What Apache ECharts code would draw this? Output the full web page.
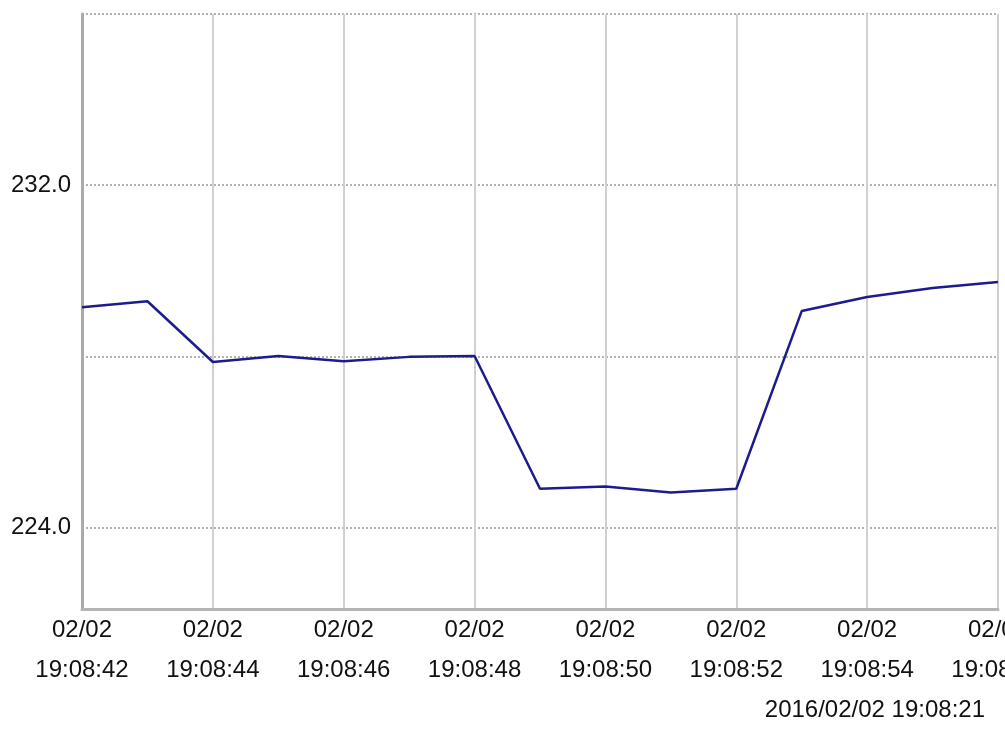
<!DOCTYPE html>
<html>
<head>
<meta charset="utf-8">
<script src="https://cdn.jsdelivr.net/npm/echarts@6/dist/echarts.min.js"></script>
<style>
  html, body { margin: 0; padding: 0; background: #fff; }
  #chart { width: 1005px; height: 740px; }
</style>
</head>
<body>
<div id="chart"></div>
<script>
  // sample times (one per second) and voltage readings
  var dates = ['02/02', '02/02', '02/02', '02/02', '02/02', '02/02', '02/02', '02/02',
               '02/02', '02/02', '02/02', '02/02', '02/02', '02/02', '02/02'];
  var times = ['19:08:42', '19:08:43', '19:08:44', '19:08:45', '19:08:46', '19:08:47', '19:08:48', '19:08:49',
               '19:08:50', '19:08:51', '19:08:52', '19:08:53', '19:08:54', '19:08:55', '19:08:56'];
  var values = [229.15, 229.29, 227.87, 228.01, 227.89, 227.99, 228.01, 224.91,
                224.96, 224.82, 224.91, 229.06, 229.39, 229.60, 229.74];
  var gridValues = [224, 228, 232, 236];
  var labelValues = [224, 232];
  var stamp = '2016/02/02 19:08:21';

  var font = "'Liberation Sans', Arial, sans-serif";

  var myChart = echarts.init(document.getElementById('chart'));
  var option = {
    animation: false,
    backgroundColor: '#fff',
    title: {
      text: stamp,
      right: 20,
      top: 698,
      padding: 0,
      textStyle: { color: '#111', fontSize: 24, fontWeight: 'normal', fontFamily: font }
    },
    grid: {
      left: 82,
      right: 7,
      top: 14,
      bottom: 131,
      containLabel: false,
      outerBoundsMode: 'none'
    },
    xAxis: {
      type: 'category',
      boundaryGap: false,
      data: times,
      axisLine: { lineStyle: { color: '#b4b4b4', width: 3 } },
      axisTick: { show: false },
      axisLabel: {
        interval: 1,
        margin: 1,
        color: '#111',
        fontSize: 24,
        lineHeight: 40,
        fontFamily: font,
        hideOverlap: false,
        formatter: function (v, i) { return dates[i] + '\n' + v; }
      },
      splitLine: { show: true, interval: 1, lineStyle: { color: '#d0d0d0', width: 2 } }
    },
    yAxis: {
      type: 'value',
      min: 222.1,
      max: 236,
      axisLine: { show: true, lineStyle: { color: '#aaaaaa', width: 3 } },
      axisTick: { show: false, customValues: gridValues },
      axisLabel: {
        customValues: labelValues,
        margin: 11,
        color: '#111',
        fontSize: 24,
        fontFamily: font,
        formatter: function (v) { return v.toFixed(1); }
      },
      splitLine: { show: true, lineStyle: { color: '#999', width: 1.5, type: [2, 2] } }
    },
    series: [
      {
        type: 'line',
        data: values,
        symbol: 'none',
        lineStyle: { color: '#1c1c8e', width: 2.5 }
      }
    ]
  };
  myChart.setOption(option);
</script>
</body>
</html>
